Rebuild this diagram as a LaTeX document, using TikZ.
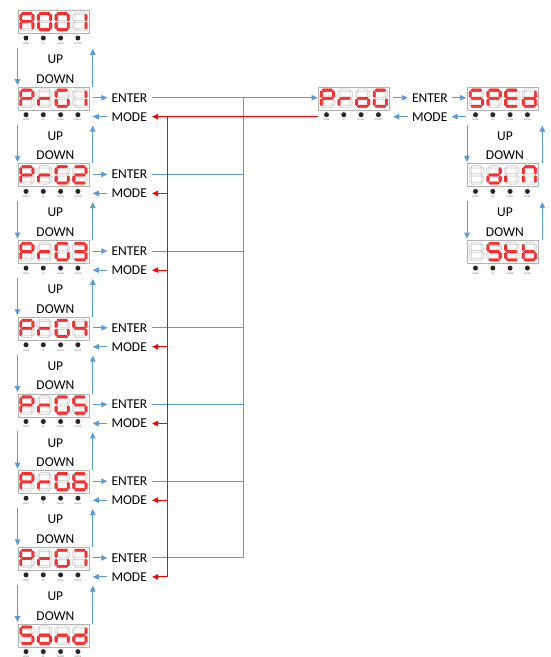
\documentclass[tikz,border=0pt]{standalone}
\usepackage{fontspec}
\setmainfont{Carlito}
\usetikzlibrary{arrows.meta,calc}
\definecolor{ablue}{HTML}{5B9BD5}
\definecolor{ared}{HTML}{FF0000}
\tikzset{
 seg1/.style={draw=red, fill=red!80, line width=0.4pt},
 seg0/.style={draw=black!22, fill=black!4, line width=0.5pt},
 dispbox/.style={draw=black!30, line width=0.8pt, minimum width=71pt, minimum height=23pt, inner sep=0pt, anchor=north west},
 btnlbl/.style={font=\fontsize{2.4}{3}\selectfont, text=black!60, inner sep=0pt},
 lbl/.style={font=\fontsize{13.5}{16}\selectfont, inner sep=0pt},
 bline/.style={draw=ablue, line width=0.9pt},
 barrow/.style={bline, -{Triangle[length=6pt,width=5.5pt]}},
 rline/.style={draw=ared, line width=0.9pt},
 rarrow/.style={rline, -{Triangle[length=6pt,width=5.5pt]}},
}
% segment patterns a b c d e f g
\def\sgA{{1}{1}{1}{0}{1}{1}{1}}
\def\sgZero{{1}{1}{1}{1}{1}{1}{0}}
\def\sgOne{{0}{1}{1}{0}{0}{0}{0}}
\def\sgP{{1}{1}{0}{0}{1}{1}{1}}
\def\sgr{{0}{0}{0}{0}{1}{0}{1}}
\def\sgG{{1}{0}{1}{1}{1}{1}{0}}
\def\sgTwo{{1}{1}{0}{1}{1}{0}{1}}
\def\sgThree{{1}{1}{1}{1}{0}{0}{1}}
\def\sgFour{{0}{1}{1}{0}{0}{1}{1}}
\def\sgFive{{1}{0}{1}{1}{0}{1}{1}}
\def\sgSix{{1}{0}{1}{1}{1}{1}{1}}
\def\sgSeven{{1}{1}{1}{0}{0}{0}{0}}
\def\sgo{{0}{0}{1}{1}{1}{0}{1}}
\def\sgn{{0}{0}{1}{0}{1}{0}{1}}
\def\sgd{{0}{1}{1}{1}{1}{0}{1}}
\def\sgE{{1}{0}{0}{1}{1}{1}{1}}
\def\sgi{{0}{0}{0}{0}{1}{0}{0}}
\def\sgN{{1}{1}{1}{0}{1}{1}{0}}
\def\sgt{{0}{0}{0}{1}{1}{1}{1}}
\def\sgb{{0}{0}{1}{1}{1}{1}{1}}
\def\sgBlank{{0}{0}{0}{0}{0}{0}{0}}
\newcommand\hsg[4]{\path[seg#4] (#1+0.7,#3) -- (#1+1.9,#3-1.2) -- (#2-1.9,#3-1.2) -- (#2-0.7,#3) -- (#2-1.9,#3+1.2) -- (#1+1.9,#3+1.2) -- cycle;}
\newcommand\vsg[4]{\path[seg#4] (#1,#2+0.7) -- (#1+1.2,#2+1.9) -- (#1+1.2,#3-1.9) -- (#1,#3-0.7) -- (#1-1.2,#3-1.9) -- (#1-1.2,#2+1.9) -- cycle;}
\newcommand\dgtraw[9]{%
 \hsg{#1+1.4}{#1+13.6}{#2+1.4}{#3}%
 \vsg{#1+13.6}{#2+1.4}{#2+9.5}{#4}%
 \vsg{#1+13.6}{#2+9.5}{#2+17.6}{#5}%
 \hsg{#1+1.4}{#1+13.6}{#2+17.6}{#6}%
 \vsg{#1+1.4}{#2+9.5}{#2+17.6}{#7}%
 \vsg{#1+1.4}{#2+1.4}{#2+9.5}{#8}%
 \hsg{#1+1.4}{#1+13.6}{#2+9.5}{#9}%
}
\newcommand\dgt[3]{\edef\dgttmp{\noexpand\dgtraw{#1}{#2}#3}\dgttmp}
\newcommand\btn[5]{\fill[black!85] (#2,#3) circle (2.5pt); \node[btnlbl] (#1) at (#2,#3+5.5) {#4#5};}
\newcommand\disp[8]{%
 \node[dispbox] (#1) at (#2,#3) {};
 \dgt{#2+1.8}{#3+2}{#4}%
 \dgt{#2+19.5}{#3+2}{#5}%
 \dgt{#2+37.2}{#3+2}{#6}%
 \dgt{#2+54.9}{#3+2}{#7}%
 \btn{#1-b1}{#2+8.5}{#3+28}{MODE}{}%
 \btn{#1-b2}{#2+25.8}{#3+28}{UP}{}%
 \btn{#1-b3}{#2+43.1}{#3+28}{DOWN}{}%
 \btn{#1-b4}{#2+60.4}{#3+28}{#8}{}%
}
\begin{document}
\begin{tikzpicture}[x=1pt,y=-1pt]
\useasboundingbox (0,0) rectangle (550,657);
\fill[white] (0,0) rectangle (550,657);
% left column
\disp{p0}{17.5}{10}{\sgA}{\sgZero}{\sgZero}{\sgOne}{SET/OK}
\disp{p1}{17.5}{86.7}{\sgP}{\sgr}{\sgG}{\sgOne}{ENTER}
\disp{p2}{17.5}{163.4}{\sgP}{\sgr}{\sgG}{\sgTwo}{ENTER}
\disp{p3}{17.5}{240.1}{\sgP}{\sgr}{\sgG}{\sgThree}{ENTER}
\disp{p4}{17.5}{316.8}{\sgP}{\sgr}{\sgG}{\sgFour}{ENTER}
\disp{p5}{17.5}{393.5}{\sgP}{\sgr}{\sgG}{\sgFive}{ENTER}
\disp{p6}{17.5}{470.2}{\sgP}{\sgr}{\sgG}{\sgSix}{ENTER}
\disp{p7}{17.5}{546.9}{\sgP}{\sgr}{\sgG}{\sgSeven}{ENTER}
\disp{p8}{17.5}{623.6}{\sgFive}{\sgo}{\sgn}{\sgd}{ENTER}
% right part
\disp{q}{318}{86.7}{\sgP}{\sgr}{\sgo}{\sgG}{ENTER}
\disp{s1}{467}{86.7}{\sgFive}{\sgP}{\sgE}{\sgd}{ENTER}
\disp{s2}{467}{163.4}{\sgBlank}{\sgd}{\sgi}{\sgN}{ENTER}
\disp{s3}{467}{240.1}{\sgBlank}{\sgFive}{\sgt}{\sgb}{ENTER}
% up/down in left column
\foreach \i in {0,...,7}{
 \pgfmathtruncatemacro\j{\i+1}
 \draw[barrow] ($(p\i.south west)+(0,14)$) -- ($(p\j.north west)+(0,-1.5)$);
 \draw[barrow] ($(p\j.north east)+(3.5,0)$) -- ($(p\i.south east)+(3.5,15)$);
 \node[lbl] (up\i) at ($(p\i.south)+(2,25.5)$) {UP};
 \node[lbl] (dn\i) at ($(p\i.south)+(2,45)$) {DOWN};
}
% up/down in right column
\foreach \i in {1,2}{
 \pgfmathtruncatemacro\j{\i+1}
 \draw[barrow] ($(s\i.south west)+(0,14)$) -- ($(s\j.north west)+(0,-1.5)$);
 \draw[barrow] ($(s\j.north east)+(3.5,0)$) -- ($(s\i.south east)+(3.5,15)$);
 \node[lbl] (sup\i) at ($(s\i.south)+(2,25.5)$) {UP};
 \node[lbl] (sdn\i) at ($(s\i.south)+(2,45)$) {DOWN};
}
% enter / mode in left column
\foreach \i in {1,...,7}{
 \node[lbl, anchor=west] (e\i) at ($(p\i.north east)+(22,11)$) {ENTER};
 \node[lbl, anchor=west] (m\i) at ($(p\i.north east)+(22,30)$) {MODE};
 \draw[barrow] ($(p\i.east |- e\i)+(3.5,0)$) -- ($(e\i.west)+(-4,0)$);
 \draw[barrow] ($(m\i.west)+(-4,0)$) -- ($(p\i.east |- m\i)+(3.5,0)$);
}
\coordinate (bv) at (243,0);
\coordinate (rv) at (167,0);
\foreach \i in {2,...,7}{
 \draw[bline] ($(e\i.east)+(4.5,0)$) -- (bv |- e\i);
}
\draw[barrow] ($(e1.east)+(4.5,0)$) -- ($(q.west |- e1)+(-0.5,0)$);
\draw[bline] (bv |- e1) -- (bv |- e7);
\draw[rline] (q.west |- m1) -- (rv |- m1) -- (rv |- m7);
\foreach \i in {1,...,7}{
 \draw[rarrow] (rv |- m\i) -- ($(m\i.east)+(5,0)$);
}
% ProG <-> SPEd
\node[lbl, anchor=west] (e8) at ($(q.north east)+(22,11)$) {ENTER};
\node[lbl, anchor=west] (m8) at ($(q.north east)+(22,30)$) {MODE};
\draw[barrow] ($(q.east |- e8)+(3.5,0)$) -- ($(e8.west)+(-4,0)$);
\draw[barrow] ($(e8.east)+(3.5,0)$) -- ($(s1.west |- e8)+(-1,0)$);
\draw[barrow] ($(s1.west |- m8)+(-1,0)$) -- ($(m8.east)+(4,0)$);
\draw[barrow] ($(m8.west)+(-4,0)$) -- ($(q.east |- m8)+(3.5,0)$);
\end{tikzpicture}
\end{document}
